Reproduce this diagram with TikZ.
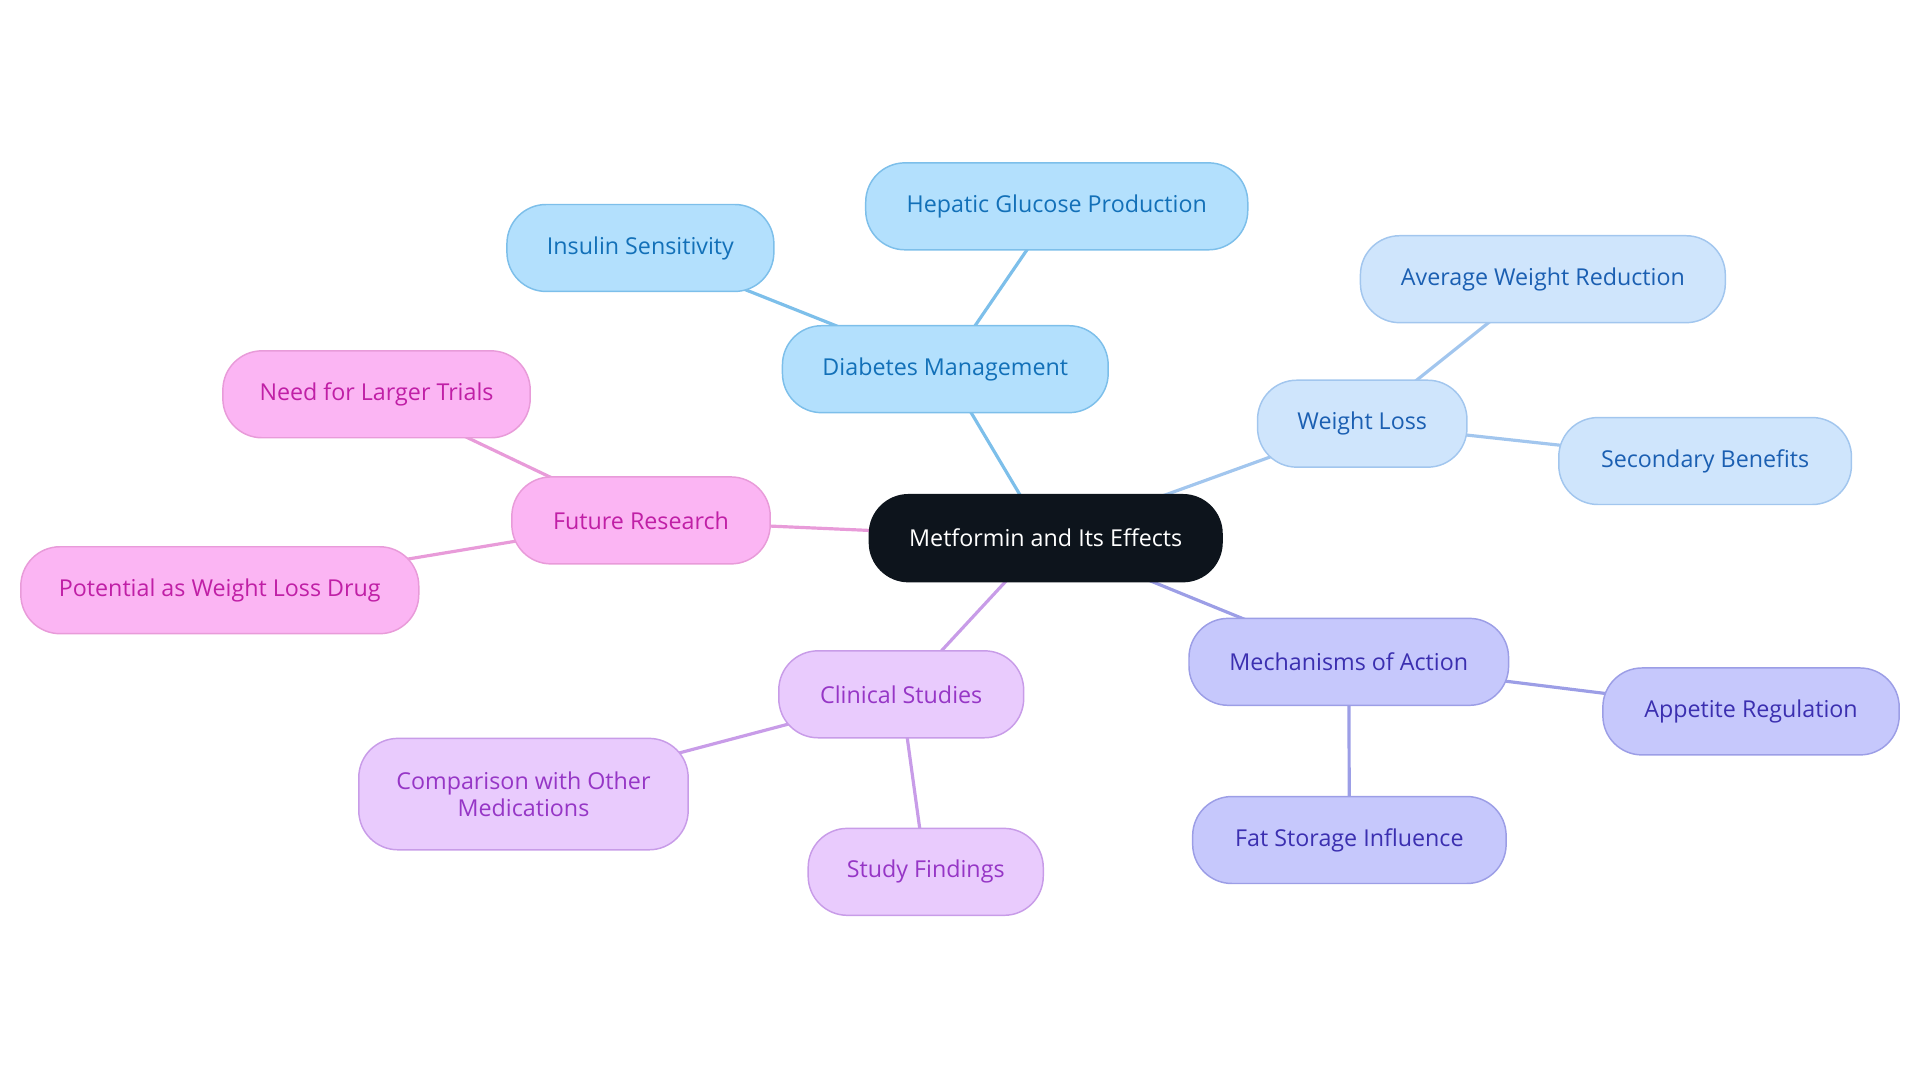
\documentclass[tikz,border=0pt]{standalone}
\usepackage{fontspec}
\setmainfont{Open Sans}
\usepackage{xcolor}
\usetikzlibrary{backgrounds}

\definecolor{rootfill}{HTML}{0D141C}
\definecolor{dmfill}{HTML}{B3E0FD}
\definecolor{dmline}{HTML}{7DBFEA}
\definecolor{dmtext}{HTML}{1270B8}
\definecolor{wlfill}{HTML}{CFE5FC}
\definecolor{wlline}{HTML}{A2C6EE}
\definecolor{wltext}{HTML}{1B5FB2}
\definecolor{mofill}{HTML}{C6C8FC}
\definecolor{moline}{HTML}{9C9EE6}
\definecolor{motext}{HTML}{3B2FB0}
\definecolor{csfill}{HTML}{E9CBFD}
\definecolor{csline}{HTML}{C89CE8}
\definecolor{cstext}{HTML}{9636C6}
\definecolor{frfill}{HTML}{FBB5F3}
\definecolor{frline}{HTML}{E89BD9}
\definecolor{frtext}{HTML}{C01FA6}

\begin{document}
\begin{tikzpicture}[x=1pt, y=-1pt,
    box/.style = {rounded corners=32pt, minimum height=71pt, line width=1.2pt,
      align=center, font=\fontsize{19}{22}\selectfont, inner sep=0pt},
    dmbox/.style = {box, draw=dmline, fill=dmfill, text=dmtext},
    wlbox/.style = {box, draw=wlline, fill=wlfill, text=wltext},
    mobox/.style = {box, draw=moline, fill=mofill, text=motext},
    csbox/.style = {box, draw=csline, fill=csfill, text=cstext},
    frbox/.style = {box, draw=frline, fill=frfill, text=frtext},
    link/.style = {line width=2.6pt}]
      \useasboundingbox (0, 0) rectangle (1568, 884);
      % centre
      \node [box, fill=rootfill, draw=rootfill, text=white, minimum width=288pt] (root) at (854, 439.5) {Metformin and Its Effects};
      % diabetes management
      \node [dmbox, minimum width=266pt] (dm) at (772, 301.5) {Diabetes Management};
      \node [dmbox, minimum width=218pt] (ins) at (523, 202.5) {Insulin Sensitivity};
      \node [dmbox, minimum width=312pt] (hep) at (863, 168.5) {Hepatic Glucose Production};
      % weight loss
      \node [wlbox, minimum width=171pt] (wl) at (1112.5, 346) {Weight Loss};
      \node [wlbox, minimum width=298pt] (avg) at (1260, 228) {Average Weight Reduction};
      \node [wlbox, minimum width=239pt] (sec) at (1392.5, 376.5) {Secondary Benefits};
      % mechanisms
      \node [mobox, minimum width=261pt] (mech) at (1101.5, 540.5) {Mechanisms of Action};
      \node [mobox, minimum width=242pt] (app) at (1430, 581) {Appetite Regulation};
      \node [mobox, minimum width=256pt] (fat) at (1102, 686) {Fat Storage Influence};
      % clinical studies
      \node [csbox, minimum width=200pt] (cs) at (736, 567) {Clinical Studies};
      \node [csbox, minimum width=269pt, minimum height=91pt] (cmp) at (427.5, 648.5) {Comparison with Other\\Medications};
      \node [csbox, minimum width=192pt] (find) at (756, 712) {Study Findings};
      % future research
      \node [frbox, minimum width=211pt] (fr) at (523.5, 425) {Future Research};
      \node [frbox, minimum width=251pt] (need) at (307.5, 322) {Need for Larger Trials};
      \node [frbox, minimum width=325pt] (pot) at (179.5, 482) {Potential as Weight Loss Drug};

      % links behind the boxes
      \begin{scope}[on background layer]
      \draw [link, dmline] (root.center) -- (dm.center);
      \draw [link, dmline] (dm.center) -- (ins.center);
      \draw [link, dmline] (dm.center) -- (hep.center);
      \draw [link, wlline] (root.center) -- (wl.center);
      \draw [link, wlline] (wl.center) -- (avg.center);
      \draw [link, wlline] (wl.center) -- (sec.center);
      \draw [link, moline] (root.center) -- (mech.center);
      \draw [link, moline] (mech.center) -- (app.center);
      \draw [link, moline] (mech.center) -- (fat.center);
      \draw [link, csline] (root.center) -- (cs.center);
      \draw [link, csline] (cs.center) -- (cmp.center);
      \draw [link, csline] (cs.center) -- (find.center);
      \draw [link, frline] (root.center) -- (fr.center);
      \draw [link, frline] (fr.center) -- (need.center);
      \draw [link, frline] (fr.center) -- (pot.center);
      \end{scope}
    \end{tikzpicture}
\end{document}
